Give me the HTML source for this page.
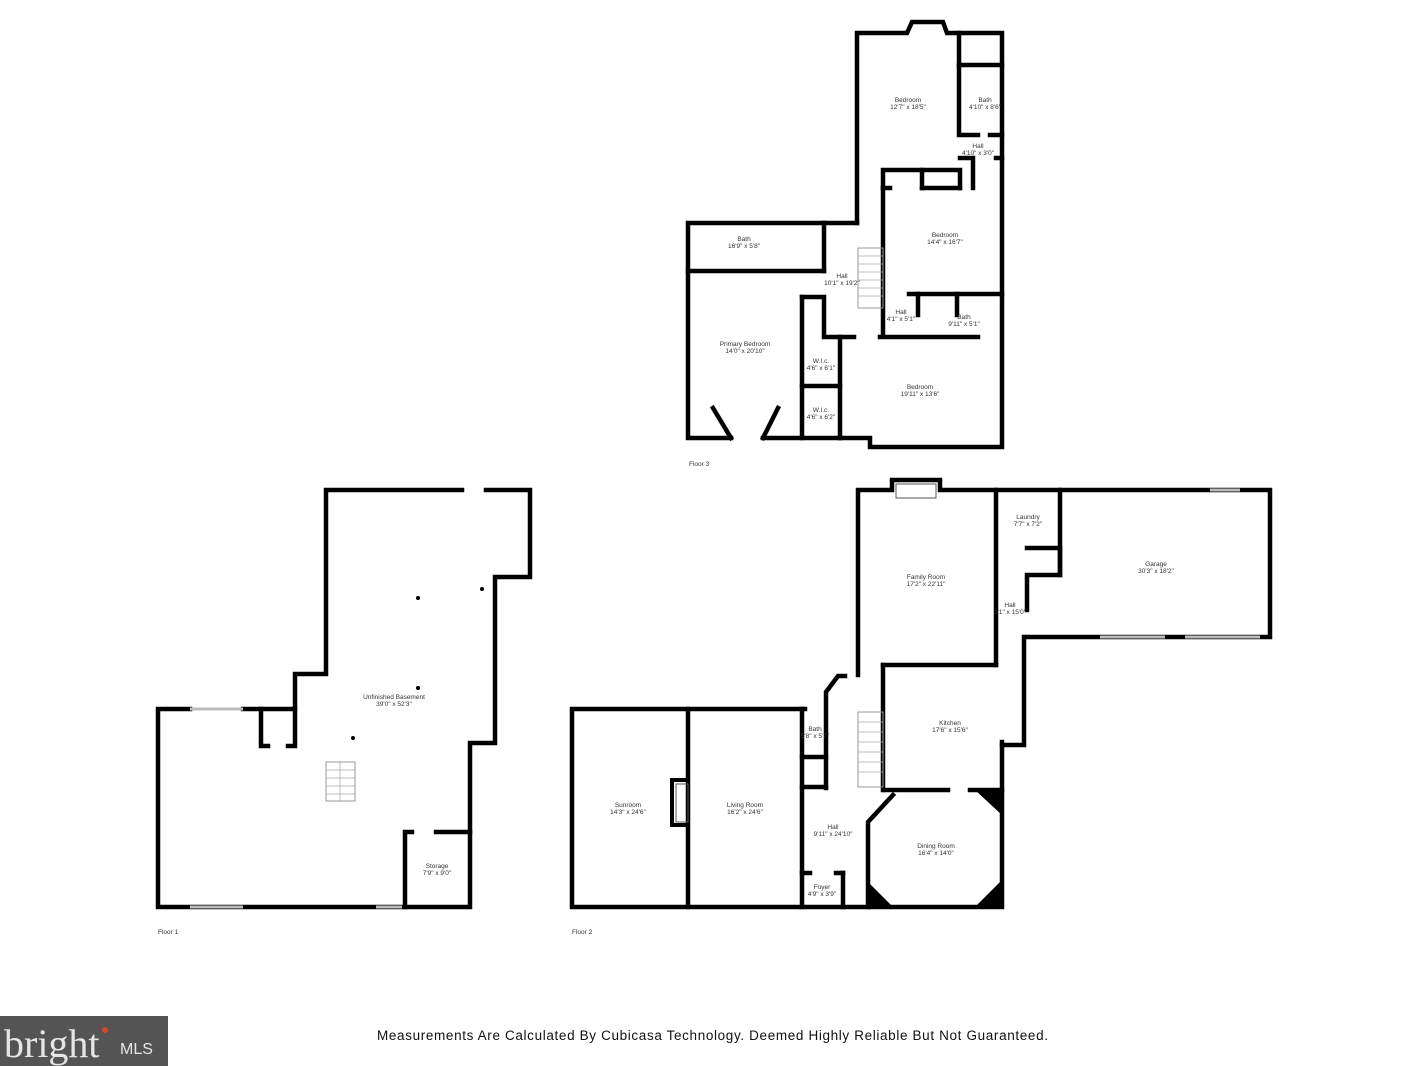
<!DOCTYPE html>
<html><head><meta charset="utf-8"><style>
html,body{margin:0;padding:0;background:#fff;}
svg{display:block}
text{font-family:"Liberation Sans",sans-serif;fill:#333;}
</style></head><body>
<svg width="1426" height="1066" viewBox="0 0 1426 1066" xmlns="http://www.w3.org/2000/svg">
<g fill="none" stroke="#000" stroke-width="4.5" stroke-linecap="square">
<!-- Floor 1 -->
<polyline points="190,709 158,709 158,907 470,907 470,743 495,743 495,577 530,577 530,490 486,490"/>
<polyline points="462,490 326,490 326,674 295,674 295,709 243,709"/>
<polyline points="261,709 261,746 268,746"/>
<polyline points="288,746 295,746 295,709"/>
<polyline points="405,907 405,832 412,832"/>
<polyline points="436,832 470,832"/>
</g>
<g fill="none" stroke="#bbb" stroke-width="3">
<line x1="190" y1="709" x2="243" y2="709"/>
<line x1="190" y1="907" x2="243" y2="907"/>
<line x1="376" y1="907" x2="402" y2="907"/>
</g>
<rect x="326" y="762" width="29" height="39" fill="none" stroke="#999" stroke-width="1"/>
<g stroke="#aaa" stroke-width="0.8"><line x1="340" y1="762" x2="340" y2="801"/><line x1="326" y1="770" x2="355" y2="770"/><line x1="326" y1="778" x2="355" y2="778"/><line x1="326" y1="786" x2="355" y2="786"/><line x1="326" y1="794" x2="355" y2="794"/></g>
<g fill="#000"><circle cx="418" cy="598" r="2"/><circle cx="482" cy="589" r="2"/><circle cx="418" cy="688" r="2"/><circle cx="353" cy="738" r="2"/></g>

<!-- Floor 3 -->
<g fill="none" stroke="#000" stroke-width="4.5" stroke-linecap="square">
<polyline points="857,223 857,33 907,33 912,22 943,22 947,33 1002,33 1002,447 870,447 870,438 840,438"/>
<polyline points="959,33 959,135 978,135"/>
<line x1="959" y1="65" x2="1002" y2="65"/>
<line x1="990" y1="135" x2="1002" y2="135"/>
<line x1="996" y1="158" x2="1002" y2="158"/>
<polyline points="883,188 883,170 960,170 960,188"/>
<line x1="922" y1="170" x2="922" y2="188"/>
<line x1="922" y1="188" x2="960" y2="188"/>
<line x1="883" y1="188" x2="890" y2="188"/>
<polyline points="960,158 973,158 973,188"/>
<line x1="883" y1="188" x2="883" y2="335"/>
<polyline points="857,223 688,223 688,438 731,438"/>
<line x1="763" y1="438" x2="840" y2="438"/>
<line x1="688" y1="271" x2="824" y2="271"/>
<line x1="824" y1="223" x2="824" y2="271"/>
<line x1="802" y1="297" x2="802" y2="438"/>
<polyline points="802,297 824,297 824,337 854,337"/>
<line x1="840" y1="337" x2="840" y2="438"/>
<line x1="802" y1="386" x2="840" y2="386"/>
<line x1="880" y1="337" x2="978" y2="337"/>
<line x1="909" y1="294" x2="1002" y2="294"/>
<line x1="918" y1="294" x2="918" y2="315"/>
<line x1="957" y1="294" x2="957" y2="315"/>
<line x1="713" y1="408" x2="731" y2="438"/>
<line x1="778" y1="408" x2="763" y2="438"/>
</g>
<rect x="858" y="248" width="25" height="60" fill="none" stroke="#999" stroke-width="1"/>
<g stroke="#aaa" stroke-width="0.8"><line x1="858" y1="256" x2="883" y2="256"/><line x1="858" y1="264" x2="883" y2="264"/><line x1="858" y1="272" x2="883" y2="272"/><line x1="858" y1="280" x2="883" y2="280"/><line x1="858" y1="288" x2="883" y2="288"/><line x1="858" y1="296" x2="883" y2="296"/></g>

<!-- Floor 2 -->
<g fill="none" stroke="#000" stroke-width="4.5" stroke-linecap="square">
<polyline points="805,709 572,709 572,907 1002,907 1002,742"/>
<line x1="688" y1="709" x2="688" y2="907"/>
<polyline points="688,780 672,780 672,825 688,825" stroke-width="4"/>
<line x1="802" y1="709" x2="802" y2="907"/>
<line x1="802" y1="757" x2="826" y2="757"/>
<line x1="802" y1="787" x2="826" y2="787"/>
<polyline points="826,788 826,692 838,676 845,676"/>
<polyline points="858,675 858,490 892,490 892,480 940,480 940,490 1270,490 1270,637 1027,637"/>
<line x1="996" y1="490" x2="996" y2="665"/>
<line x1="883" y1="665" x2="996" y2="665"/>
<line x1="883" y1="665" x2="883" y2="790"/>
<line x1="1060" y1="490" x2="1060" y2="575"/>
<polyline points="1027,548 1060,548 1060,575 1027,575 1027,610"/>
<polyline points="1024,637 1024,745 1002,745"/>
<line x1="884" y1="790" x2="948" y2="790"/>
<line x1="970" y1="790" x2="1002" y2="790"/>
<polyline points="893,795 868,822 868,907"/>
<line x1="802" y1="873" x2="810" y2="873"/>
<line x1="836" y1="873" x2="843" y2="873"/>
<line x1="843" y1="873" x2="843" y2="907"/>
</g>
<g fill="#000">
<polygon points="868,907 868,882 893,907"/>
<polygon points="1002,907 1002,880 975,907"/>
<polygon points="1002,790 975,790 1002,815"/>
</g>
<rect x="896" y="484" width="40" height="14" fill="none" stroke="#555" stroke-width="1"/>
<rect x="676" y="784" width="12" height="38" fill="none" stroke="#555" stroke-width="1"/>
<rect x="858" y="712" width="25" height="75" fill="none" stroke="#999" stroke-width="1"/>
<g stroke="#aaa" stroke-width="0.8"><line x1="858" y1="722" x2="883" y2="722"/><line x1="858" y1="732" x2="883" y2="732"/><line x1="858" y1="742" x2="883" y2="742"/><line x1="858" y1="752" x2="883" y2="752"/><line x1="858" y1="762" x2="883" y2="762"/><line x1="858" y1="772" x2="883" y2="772"/></g>
<g stroke="#bbb" stroke-width="3" fill="none">
<line x1="1100" y1="637" x2="1165" y2="637"/><line x1="1185" y1="637" x2="1260" y2="637"/>
<line x1="1210" y1="490" x2="1240" y2="490"/>
</g>

<g font-size="6.5" text-anchor="middle">
<text x="908" y="102">Bedroom</text><text x="908" y="109">12'7" x 18'5"</text>
<text x="985" y="102">Bath</text><text x="985" y="109">4'10" x 8'6"</text>
<text x="978" y="148">Hall</text><text x="978" y="155">4'10" x 3'0"</text>
<text x="945" y="237">Bedroom</text><text x="945" y="244">14'4" x 16'7"</text>
<text x="744" y="241">Bath</text><text x="744" y="248">16'9" x 5'8"</text>
<text x="842" y="278">Hall</text><text x="842" y="285">10'1" x 19'2"</text>
<text x="901" y="314">Hall</text><text x="901" y="321">4'1" x 5'1"</text>
<text x="964" y="319">Bath</text><text x="964" y="326">9'11" x 5'1"</text>
<text x="745" y="346">Primary Bedroom</text><text x="745" y="353">14'0" x 20'10"</text>
<text x="821" y="363">W.I.c.</text><text x="821" y="370">4'6" x 6'1"</text>
<text x="920" y="389">Bedroom</text><text x="920" y="396">19'11" x 13'6"</text>
<text x="821" y="412">W.I.c.</text><text x="821" y="419">4'6" x 6'2"</text>
<text x="394" y="699">Unfinished Basement</text><text x="394" y="706">39'0" x 52'3"</text>
<text x="437" y="868">Storage</text><text x="437" y="875">7'9" x 9'0"</text>
<text x="1028" y="519">Laundry</text><text x="1028" y="526">7'7" x 7'2"</text>
<text x="1156" y="566">Garage</text><text x="1156" y="573">30'3" x 18'2"</text>
<text x="926" y="579">Family Room</text><text x="926" y="586">17'2" x 22'11"</text>
<text x="1010" y="607">Hall</text><text x="1010" y="614">3'1" x 15'0"</text>
<text x="950" y="725">Kitchen</text><text x="950" y="732">17'6" x 15'6"</text>
<text x="815" y="731">Bath</text><text x="815" y="738">5'8" x 5'7"</text>
<text x="628" y="807">Sunroom</text><text x="628" y="814">14'3" x 24'6"</text>
<text x="745" y="807">Living Room</text><text x="745" y="814">16'2" x 24'6"</text>
<text x="833" y="829">Hall</text><text x="833" y="836">9'11" x 24'10"</text>
<text x="936" y="848">Dining Room</text><text x="936" y="855">16'4" x 14'0"</text>
<text x="822" y="889">Foyer</text><text x="822" y="896">4'9" x 3'9"</text>
</g>
<g font-size="6.5"><text x="689" y="466">Floor 3</text><text x="158" y="934">Floor 1</text><text x="572" y="934">Floor 2</text></g>
<text x="377" y="1040" font-size="13.5" textLength="671" lengthAdjust="spacing" style="fill:#111">Measurements Are Calculated By Cubicasa Technology. Deemed Highly Reliable But Not Guaranteed.</text>
<rect x="0" y="1016" width="168" height="50" fill="#545454"/>
<text x="4" y="1057" font-size="40" style="fill:#e6e6e6;font-family:'Liberation Serif',serif">bright</text>
<circle cx="105" cy="1030" r="3" fill="#d9482b"/>
<text x="120" y="1054" font-size="16" style="fill:#e6e6e6">MLS</text>
</svg>
</body></html>
